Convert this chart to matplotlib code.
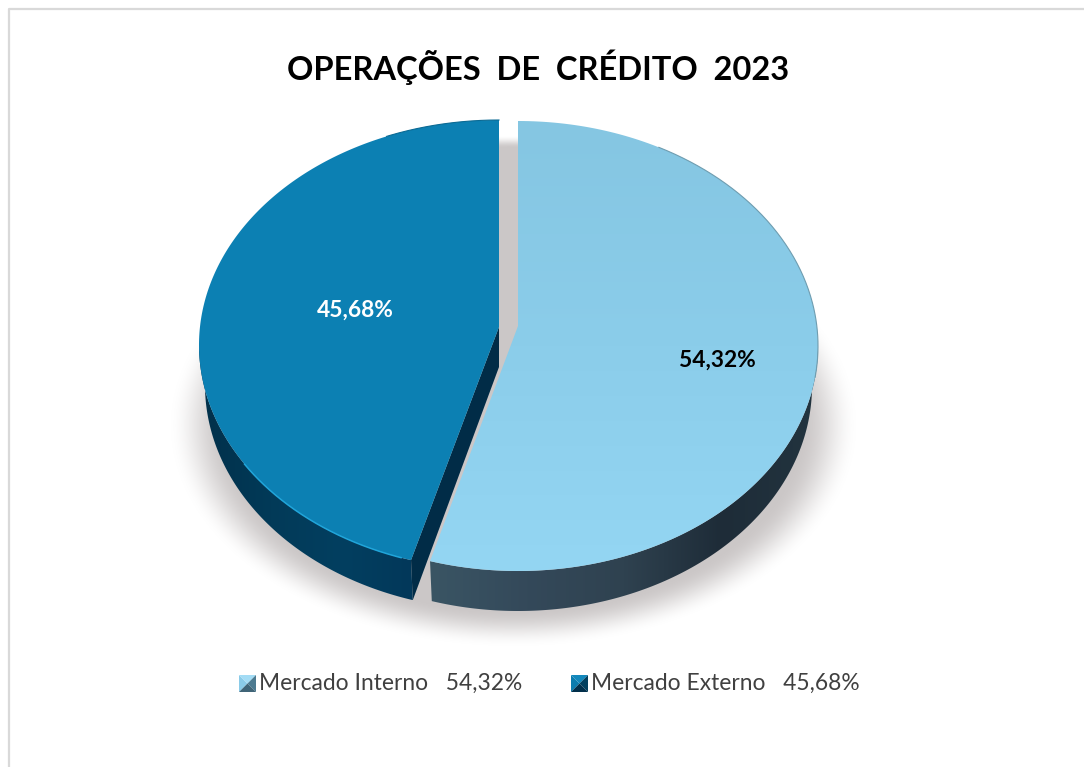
import numpy as np
import matplotlib
matplotlib.use('Agg')
import matplotlib.pyplot as plt
from matplotlib.colors import LinearSegmentedColormap
from matplotlib.patches import Polygon

categories = ['Mercado Interno', 'Mercado Externo']
values = [54.32, 45.68]
title = 'OPERAÇÕES  DE  CRÉDITO  2023'

plt.rcParams['font.family'] = ['Lato', 'DejaVu Sans']

# geometry of the tilted pie, in pixels
A, A_BOTTOM, B, DEPTH = 300, 294, 225, 40
LIGHT_C, DARK_C = (518, 346), (499, 345)
LIGHT_APEX, DARK_APEX = (518, 326), (499, 327)
SKEW = 1.5


def fmt(v):
    return f'{v:.2f}%'.replace('.', ',')


def arc(center, t0, t1, dy=0, a=A, n=200):
    t = np.radians(np.linspace(t0, t1, n))
    return np.column_stack([center[0] + a * np.cos(t), center[1] - B * np.sin(t) + dy])


def gradient(ax, pts, colors, horizontal=False, zorder=2):
    # gradient image clipped to a polygon
    cmap = LinearSegmentedColormap.from_list('g', colors)
    x0, y0 = pts.min(axis=0)
    x1, y1 = pts.max(axis=0)
    g = np.linspace(0, 1, 256).reshape(1, -1) if horizontal else np.linspace(0, 1, 256).reshape(-1, 1)
    im = ax.imshow(g, cmap=cmap, extent=(x0, x1, y1, y0), aspect='auto', zorder=zorder, interpolation='bilinear')
    patch = Polygon(pts, closed=True, transform=ax.transData, facecolor='none', edgecolor='none')
    ax.add_patch(patch)
    im.set_clip_path(patch)


def smooth(d, width):
    s = np.clip((1 - d) / width, 0, 1)
    return s * s * (3 - 2 * s)


def swatch(ax, x, y, size, left, top, right, bottom):
    c = (x + size / 2, y + size / 2)
    corners = [(x, y), (x + size, y), (x + size, y + size), (x, y + size)]
    ax.fill(*zip(corners[3], corners[0], c), color=left, lw=0, zorder=5)
    ax.fill(*zip(corners[0], corners[1], c), color=top, lw=0, zorder=5)
    ax.fill(*zip(corners[1], corners[2], c), color=right, lw=0, zorder=5)
    ax.fill(*zip(corners[2], corners[3], c), color=bottom, lw=0, zorder=5)


fig = plt.figure(figsize=(10.84, 7.67), dpi=100)
ax = fig.add_axes([0, 0, 1, 1])
ax.axis('off')

# chart frame, only top and left are visible
ax.plot([1084, 9, 9], [9, 9, 767], color='#D9D9D9', lw=1.6, zorder=1)

# soft shadow below the pie
xx, yy = np.meshgrid(np.arange(1084), np.arange(767))
d1 = np.hypot((xx - 513) / 345, (yy - 425) / 222)
d2 = np.hypot((xx - 508) / 292, (yy - 340) / 205)
fade = np.maximum(smooth(d1, 0.17), smooth(d2, 0.06))
shadow = np.zeros((767, 1084, 4))
shadow[..., :3] = np.array([203, 199, 199]) / 255
shadow[..., 3] = fade
ax.imshow(shadow, extent=(0, 1084, 767, 0), aspect='auto', zorder=1.5)

# angles come from the values, slices run clockwise from 12 o'clock
cut = 90 - values[0] * 3.6 - SKEW

# light slice
light_wall = np.vstack([arc(LIGHT_C, 0, cut), arc(LIGHT_C, cut, 0, dy=DEPTH, a=A_BOTTOM)])
gradient(ax, light_wall, ['#3A5564', '#34495A', '#2F4250', '#1E2C38', '#22343F'], horizontal=True, zorder=2)
light_top = np.vstack([[LIGHT_APEX], arc(LIGHT_C, 90, cut)])
gradient(ax, light_top, ['#85C6E2', '#8BCDEA', '#94D6F3'], zorder=3)
ax.plot(*arc(LIGHT_C, 62, -8).T, color='#6F9DB0', lw=0.8, zorder=3.5)

# dark slice
dark_wall = np.vstack([arc(DARK_C, 180, cut + 360), arc(DARK_C, cut + 360, 180, dy=DEPTH, a=A_BOTTOM)])
gradient(ax, dark_wall, ['#01304A', '#023A58', '#033F60', '#02385A'], horizontal=True, zorder=2)
corner = arc(DARK_C, cut + 360, cut + 360, n=1)[0]
bottom_corner = arc(DARK_C, cut + 360, cut + 360, dy=DEPTH, a=A_BOTTOM, n=1)[0]
side = np.array([DARK_APEX, corner, bottom_corner, np.array(DARK_APEX) + [0, DEPTH]])
ax.fill(side[:, 0], side[:, 1], color='#012C47', lw=0, zorder=2.5)
dark_top = np.vstack([[DARK_APEX], arc(DARK_C, 90, cut + 360)])
ax.fill(dark_top[:, 0], dark_top[:, 1], color='#0C80B3', lw=0, zorder=3)
ax.plot(*arc(DARK_C, 90, 112).T, color='#0B6A94', lw=0.8, zorder=3.5)
ax.plot(*arc(DARK_C, 212, cut + 358).T, color='#20A5DA', lw=1.1, zorder=3.5)

# texts
ax.text(538, 67, title, ha='center', va='center', fontsize=23.5, fontweight='bold', color='black', zorder=6)
ax.text(717, 360, fmt(values[0]), ha='center', va='center', fontsize=16.4, fontweight='bold', color='black', zorder=6)
ax.text(355, 310, fmt(values[1]), ha='center', va='center', fontsize=16.4, fontweight='bold', color='white', zorder=6)

# legend
swatch(ax, 239, 675, 17, '#8ACBE8', '#A3DCF5', '#4C7A90', '#3F6477')
swatch(ax, 571, 675, 17, '#0B7CAE', '#1288BC', '#02405F', '#012F4B')
ax.text(259, 683, f'{categories[0]}   {fmt(values[0])}', ha='left', va='center', fontsize=16.4, color='#404040', zorder=6)
ax.text(591, 683, f'{categories[1]}   {fmt(values[1])}', ha='left', va='center', fontsize=16.4, color='#404040', zorder=6)

ax.set_xlim(0, 1084)
ax.set_ylim(767, 0)
fig.savefig('out.png', dpi=100)
